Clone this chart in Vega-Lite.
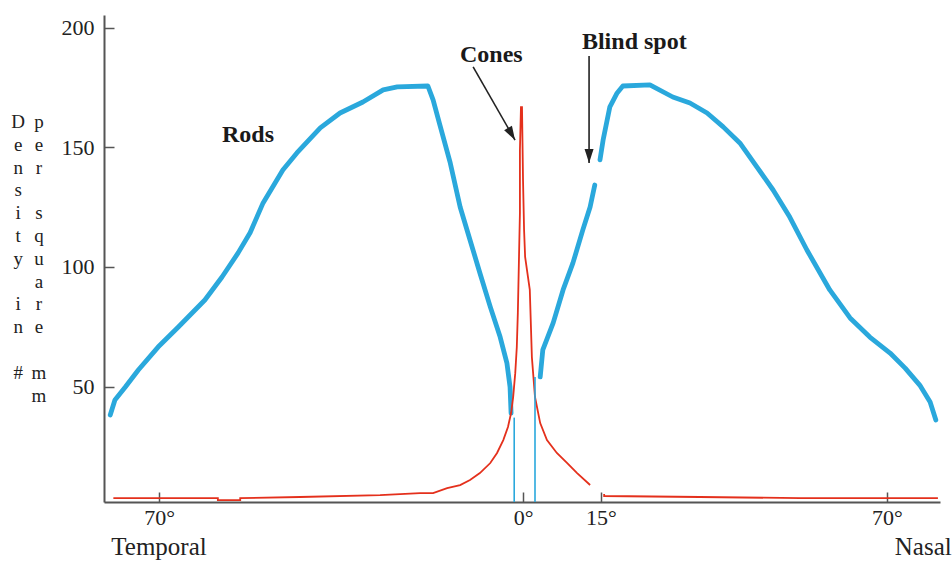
{
  "$schema": "https://vega.github.io/schema/vega-lite/v6.json",
  "width": 836,
  "height": 487,
  "autosize": {"type": "none"},
  "padding": {"left": 104, "top": 15, "right": 12, "bottom": 60},
  "background": "white",
  "config": {"view": {"stroke": null}, "font": "Liberation Serif"},
  "datasets": {
    "rods": [
      {"seg": "L", "x": -79.4, "y": 38.1}, {"seg": "L", "x": -78.5, "y": 44.4}, {"seg": "L", "x": -76.5, "y": 49.8},
      {"seg": "L", "x": -74.0, "y": 56.9}, {"seg": "L", "x": -70.2, "y": 66.5}, {"seg": "L", "x": -66.3, "y": 74.9},
      {"seg": "L", "x": -61.2, "y": 86.2}, {"seg": "L", "x": -57.9, "y": 95.8}, {"seg": "L", "x": -54.8, "y": 105.9},
      {"seg": "L", "x": -52.5, "y": 114.3}, {"seg": "L", "x": -50.0, "y": 126.8}, {"seg": "L", "x": -46.2, "y": 140.6},
      {"seg": "L", "x": -43.5, "y": 147.7}, {"seg": "L", "x": -39.0, "y": 158.2}, {"seg": "L", "x": -35.2, "y": 164.4},
      {"seg": "L", "x": -30.8, "y": 169.0}, {"seg": "L", "x": -26.9, "y": 174.1}, {"seg": "L", "x": -24.2, "y": 175.3},
      {"seg": "L", "x": -18.3, "y": 175.7}, {"seg": "L", "x": -17.3, "y": 169.9}, {"seg": "L", "x": -16.0, "y": 159.4},
      {"seg": "L", "x": -14.0, "y": 143.5}, {"seg": "L", "x": -12.1, "y": 125.1}, {"seg": "L", "x": -10.2, "y": 111.3},
      {"seg": "L", "x": -8.3, "y": 97.5}, {"seg": "L", "x": -6.3, "y": 83.3}, {"seg": "L", "x": -4.4, "y": 70.7},
      {"seg": "L", "x": -3.1, "y": 59.8}, {"seg": "L", "x": -2.5, "y": 49.8}, {"seg": "L", "x": -2.3, "y": 38.9},
      {"seg": "R1", "x": 3.3, "y": 54.0}, {"seg": "R1", "x": 3.8, "y": 65.3}, {"seg": "R1", "x": 5.8, "y": 76.6},
      {"seg": "R1", "x": 7.7, "y": 90.4}, {"seg": "R1", "x": 9.6, "y": 101.7}, {"seg": "R1", "x": 11.5, "y": 115.5},
      {"seg": "R1", "x": 12.9, "y": 125.1}, {"seg": "R1", "x": 13.8, "y": 134.3},
      {"seg": "R2", "x": 14.8, "y": 144.8}, {"seg": "R2", "x": 15.4, "y": 153.1}, {"seg": "R2", "x": 16.7, "y": 167.0},
      {"seg": "R2", "x": 18.1, "y": 172.8}, {"seg": "R2", "x": 19.2, "y": 175.7}, {"seg": "R2", "x": 24.4, "y": 176.2},
      {"seg": "R2", "x": 28.8, "y": 171.1}, {"seg": "R2", "x": 32.1, "y": 168.6}, {"seg": "R2", "x": 35.4, "y": 164.4},
      {"seg": "R2", "x": 38.5, "y": 158.6}, {"seg": "R2", "x": 41.7, "y": 151.9}, {"seg": "R2", "x": 45.0, "y": 141.8},
      {"seg": "R2", "x": 48.1, "y": 132.2}, {"seg": "R2", "x": 51.3, "y": 120.9}, {"seg": "R2", "x": 54.6, "y": 107.1},
      {"seg": "R2", "x": 59.0, "y": 90.4}, {"seg": "R2", "x": 62.9, "y": 78.7}, {"seg": "R2", "x": 66.7, "y": 70.7},
      {"seg": "R2", "x": 70.6, "y": 64.0}, {"seg": "R2", "x": 73.5, "y": 57.7}, {"seg": "R2", "x": 76.3, "y": 50.6},
      {"seg": "R2", "x": 78.3, "y": 43.5}, {"seg": "R2", "x": 79.4, "y": 36.0}
    ],
    "cones": [
      {"seg": "L", "i": 1, "x": -78.8, "y": 3.3}, {"seg": "L", "i": 2, "x": -58.7, "y": 3.3}, {"seg": "L", "i": 3, "x": -58.7, "y": 2.5},
      {"seg": "L", "i": 4, "x": -54.4, "y": 2.5}, {"seg": "L", "i": 5, "x": -54.4, "y": 3.3}, {"seg": "L", "i": 6, "x": -42.9, "y": 3.8},
      {"seg": "L", "i": 7, "x": -27.5, "y": 4.6}, {"seg": "L", "i": 8, "x": -19.8, "y": 5.4}, {"seg": "L", "i": 9, "x": -17.3, "y": 5.4},
      {"seg": "L", "i": 10, "x": -14.6, "y": 7.5}, {"seg": "L", "i": 11, "x": -12.1, "y": 8.8}, {"seg": "L", "i": 12, "x": -10.2, "y": 10.9},
      {"seg": "L", "i": 13, "x": -8.3, "y": 13.8}, {"seg": "L", "i": 14, "x": -6.3, "y": 18.0}, {"seg": "L", "i": 15, "x": -5.0, "y": 22.2},
      {"seg": "L", "i": 16, "x": -3.8, "y": 27.6}, {"seg": "L", "i": 17, "x": -2.9, "y": 33.1}, {"seg": "L", "i": 18, "x": -2.3, "y": 38.9},
      {"seg": "L", "i": 19, "x": -1.9, "y": 45.6}, {"seg": "L", "i": 20, "x": -1.5, "y": 55.6}, {"seg": "L", "i": 21, "x": -1.2, "y": 66.5},
      {"seg": "L", "i": 22, "x": -1.0, "y": 80.8}, {"seg": "L", "i": 23, "x": -0.8, "y": 101.7}, {"seg": "L", "i": 24, "x": -0.6, "y": 122.6},
      {"seg": "L", "i": 25, "x": -0.6, "y": 148.9}, {"seg": "L", "i": 26, "x": -0.4, "y": 166.9}, {"seg": "L", "i": 27, "x": -0.2, "y": 166.9},
      {"seg": "L", "i": 28, "x": 0.0, "y": 136.0}, {"seg": "L", "i": 29, "x": 0.2, "y": 115.5}, {"seg": "L", "i": 30, "x": 0.4, "y": 104.2},
      {"seg": "L", "i": 31, "x": 1.3, "y": 90.4}, {"seg": "L", "i": 32, "x": 1.7, "y": 62.3}, {"seg": "L", "i": 33, "x": 2.3, "y": 45.6},
      {"seg": "L", "i": 34, "x": 3.3, "y": 34.7}, {"seg": "L", "i": 35, "x": 4.6, "y": 27.6}, {"seg": "L", "i": 36, "x": 6.5, "y": 22.2},
      {"seg": "L", "i": 37, "x": 8.5, "y": 18.0}, {"seg": "L", "i": 38, "x": 10.4, "y": 13.8}, {"seg": "L", "i": 39, "x": 12.9, "y": 8.8},
      {"seg": "R", "i": 40, "x": 15.6, "y": 5.0}, {"seg": "R", "i": 41, "x": 15.6, "y": 4.2}, {"seg": "R", "i": 42, "x": 34.0, "y": 3.8},
      {"seg": "R", "i": 43, "x": 53.3, "y": 3.3}, {"seg": "R", "i": 44, "x": 79.8, "y": 3.3}
    ],
    "edges": [
      {"x": -1.7, "y": 1.7, "y2": 37.0},
      {"x": 2.3, "y": 1.7, "y2": 54.0}
    ],
    "arrows": [
      {"name": "cones", "x": -9.6, "y": 183.7, "x2": -1.54, "y2": 153.1},
      {"name": "blind", "x": 12.7, "y": 188.3, "x2": 12.7, "y2": 143.5}
    ],
    "notes": [
      {"x": -52.9, "y": 152.3, "label": "Rods"},
      {"x": -6.1, "y": 185.8, "label": "Cones"},
      {"x": 21.4, "y": 191.2, "label": "Blind spot"}
    ],
    "sides": [
      {"x": -79.2, "y": -20.5, "label": "Temporal"},
      {"x": 71.5, "y": -20.5, "label": "Nasal"}
    ],
    "ytitle": [
      {"x": -97.1, "y": 164.41, "label": "D|e|n|s|i|t|y"},
      {"x": -97.1, "y": 88.11, "label": "i|n"},
      {"x": -97.1, "y": 59.5, "label": "#"},
      {"x": -93.1, "y": 164.41, "label": "p|e|r"},
      {"x": -93.1, "y": 126.26, "label": "s|q|u|a|r|e"},
      {"x": -93.1, "y": 59.5, "label": "m|m"}
    ]
  },
  "layer": [
    {
      "data": {"name": "rods"},
      "mark": {"type": "line", "color": "#2aa8dc", "strokeWidth": 4.8, "strokeJoin": "round", "strokeCap": "round"},
      "encoding": {
        "x": {
          "field": "x", "type": "quantitative",
          "scale": {"domain": [-80.6, 80.2], "nice": false, "zero": false},
          "axis": {
            "orient": "bottom", "values": [-70, 0, 15, 70], "labelExpr": "abs(datum.value) + '°'", "title": null,
            "tickSize": -10, "labelPadding": 15, "labelFont": "Liberation Serif", "labelFontSize": 22,
            "labelColor": "#222", "domainColor": "#555", "domainWidth": 2, "tickColor": "#555", "tickWidth": 1.5,
            "grid": false, "labelFlush": false
          }
        },
        "y": {
          "field": "y", "type": "quantitative",
          "scale": {"domain": [1.7, 205.4], "nice": false, "zero": false},
          "axis": {
            "orient": "left", "values": [50, 100, 150, 200], "tickSize": -10, "labelPadding": 20,
            "labelFont": "Liberation Serif", "labelFontSize": 22, "labelColor": "#222",
            "domainColor": "#555", "domainWidth": 2, "tickColor": "#555", "tickWidth": 1.5, "grid": false,
            "title": null
          }
        },
        "detail": {"field": "seg"}
      }
    },
    {
      "data": {"name": "cones"},
      "mark": {"type": "line", "color": "#e4301c", "strokeWidth": 1.8},
      "encoding": {
        "x": {"field": "x", "type": "quantitative"},
        "y": {"field": "y", "type": "quantitative"},
        "detail": {"field": "seg"},
        "order": {"field": "i"}
      }
    },
    {
      "data": {"name": "edges"},
      "mark": {"type": "rule", "color": "#2aa8dc", "strokeWidth": 1.6},
      "encoding": {
        "x": {"field": "x", "type": "quantitative"},
        "y": {"field": "y", "type": "quantitative"},
        "y2": {"field": "y2"}
      }
    },
    {
      "data": {"name": "arrows"},
      "mark": {"type": "rule", "color": "#222", "strokeWidth": 1.6},
      "encoding": {
        "x": {"field": "x", "type": "quantitative"},
        "y": {"field": "y", "type": "quantitative"},
        "x2": {"field": "x2"},
        "y2": {"field": "y2"}
      }
    },
    {
      "data": {"name": "arrows"},
      "transform": [{"filter": "datum.name === 'cones'"}],
      "mark": {"type": "point", "shape": "M0,0 L-0.45,1.4 L0.45,1.4 Z", "size": 400, "filled": true, "color": "#222", "opacity": 1, "angle": 150},
      "encoding": {
        "x": {"field": "x2", "type": "quantitative"},
        "y": {"field": "y2", "type": "quantitative"}
      }
    },
    {
      "data": {"name": "arrows"},
      "transform": [{"filter": "datum.name === 'blind'"}],
      "mark": {"type": "point", "shape": "M0,0 L-0.45,1.4 L0.45,1.4 Z", "size": 400, "filled": true, "color": "#222", "opacity": 1, "angle": 180},
      "encoding": {
        "x": {"field": "x2", "type": "quantitative"},
        "y": {"field": "y2", "type": "quantitative"}
      }
    },
    {
      "data": {"name": "notes"},
      "mark": {"type": "text", "font": "Liberation Serif", "fontWeight": "bold", "fontSize": 24, "align": "center", "baseline": "alphabetic", "color": "#1a1a1a"},
      "encoding": {
        "x": {"field": "x", "type": "quantitative"},
        "y": {"field": "y", "type": "quantitative"},
        "text": {"field": "label"}
      }
    },
    {
      "data": {"name": "sides"},
      "mark": {"type": "text", "font": "Liberation Serif", "fontSize": 25, "align": "left", "baseline": "alphabetic", "color": "#222"},
      "encoding": {
        "x": {"field": "x", "type": "quantitative"},
        "y": {"field": "y", "type": "quantitative"},
        "text": {"field": "label"}
      }
    },
    {
      "data": {"name": "ytitle"},
      "mark": {"type": "text", "font": "Liberation Serif", "fontSize": 19, "align": "center", "baseline": "top", "lineBreak": "|", "lineHeight": 22.8, "color": "#222"},
      "encoding": {
        "x": {"field": "x", "type": "quantitative"},
        "y": {"field": "y", "type": "quantitative"},
        "text": {"field": "label"}
      }
    }
  ]
}
